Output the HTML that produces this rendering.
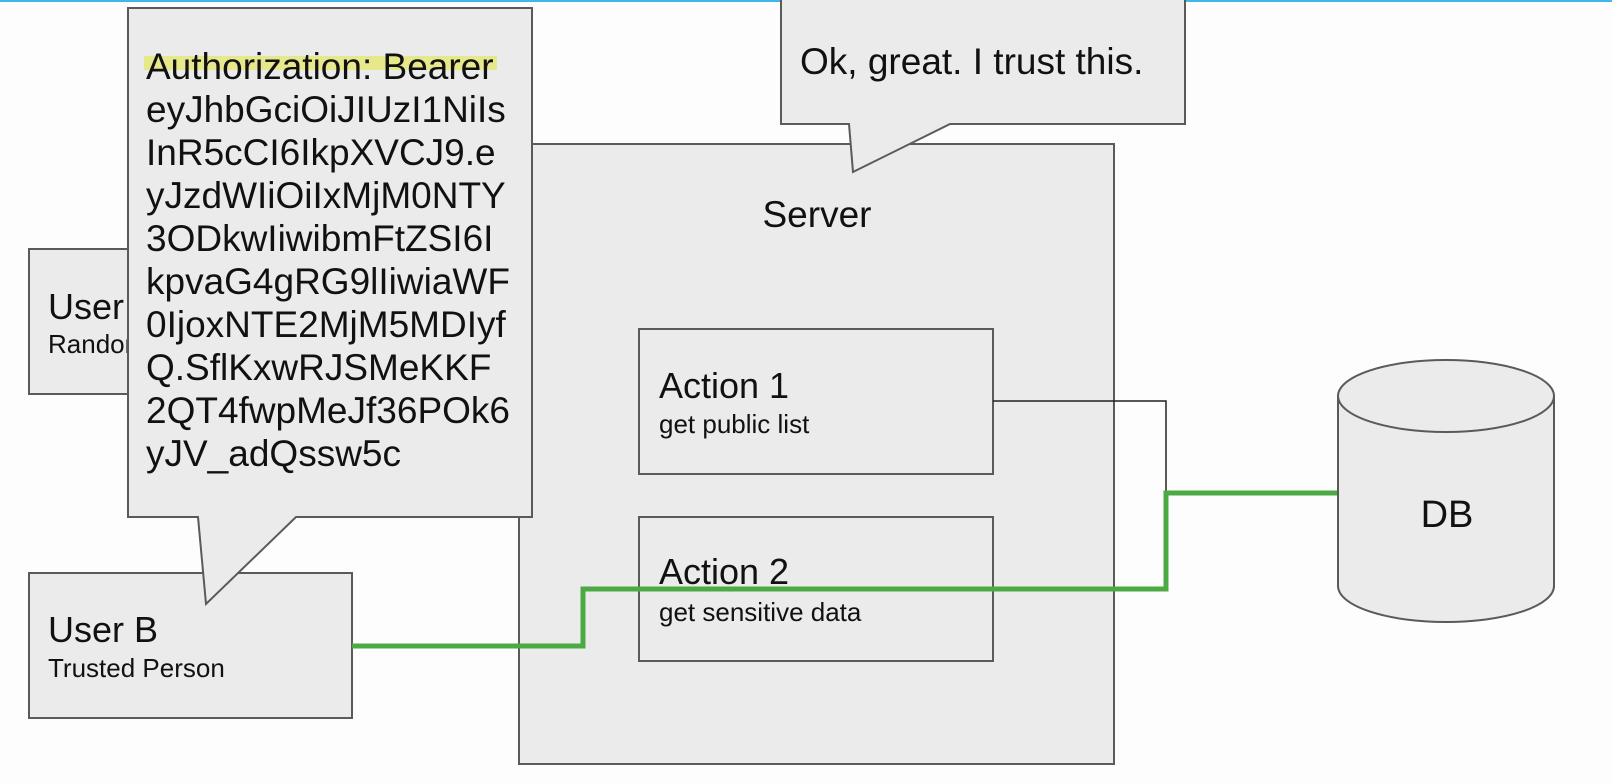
<!DOCTYPE html>
<html><head><meta charset="utf-8"><style>
html,body{margin:0;padding:0;background:#fff;width:1612px;height:784px;overflow:hidden}
svg{display:block;font-family:"Liberation Sans",Arial,sans-serif}
</style></head><body>
<svg width="1612" height="784" viewBox="0 0 1612 784" xmlns="http://www.w3.org/2000/svg">
<rect x="0" y="0" width="1612" height="784" fill="#fdfdfd"/>
<rect x="0" y="0" width="1612" height="2" fill="#3fb8e6"/>
<g fill="#ebebeb" stroke="#5a5a5a" stroke-width="2">
<rect x="519" y="144" width="595" height="620"/>
<rect x="29" y="249" width="200" height="145"/>
<rect x="29" y="573" width="323" height="145"/>
<rect x="639" y="329" width="354" height="145"/>
<rect x="639" y="517" width="354" height="144"/>
</g>
<polyline points="993,401 1166,401 1166,492" fill="none" stroke="#222" stroke-width="1.5"/>
<polyline points="352,646 583,646 583,589 1166,589 1166,493 1338,493" fill="none" stroke="#4caa44" stroke-width="5"/>
<path d="M1338,396 L1338,586 A108,36 0 0 0 1554,586 L1554,396" fill="#ebebeb" stroke="#5a5a5a" stroke-width="2"/>
<ellipse cx="1446" cy="396" rx="108" ry="36" fill="#ebebeb" stroke="#5a5a5a" stroke-width="2"/>
<text x="1447" y="527" font-size="38" text-anchor="middle" fill="#111">DB</text>
<g fill="#111">
<text x="48" y="319" font-size="36">User A</text>
<text x="48" y="353" font-size="26">Random</text>
</g>
<path d="M781,-2 L1185,-2 L1185,124 L950,124 L853,172 L849,124 L781,124 Z" fill="#ebebeb" stroke="#5a5a5a" stroke-width="2"/>
<text x="800" y="74" font-size="37" fill="#111">Ok, great. I trust this.</text>
<path d="M128,8 L532,8 L532,517 L296,517 L206,604 L198,517 L128,517 Z" fill="#ebebeb" stroke="#5a5a5a" stroke-width="2"/>
<rect x="144" y="56" width="353" height="14" fill="#e6e67a" opacity="0.85"/>
<g font-size="37" fill="#111">
<text x="146" y="79">Authorization: Bearer</text>
<text x="146" y="122">eyJhbGciOiJIUzI1NiIs</text>
<text x="146" y="165">InR5cCI6IkpXVCJ9.e</text>
<text x="146" y="208">yJzdWIiOiIxMjM0NTY</text>
<text x="146" y="251">3ODkwIiwibmFtZSI6I</text>
<text x="146" y="294">kpvaG4gRG9lIiwiaWF</text>
<text x="146" y="337">0IjoxNTE2MjM5MDIyf</text>
<text x="146" y="380">Q.SflKxwRJSMeKKF</text>
<text x="146" y="423">2QT4fwpMeJf36POk6</text>
<text x="146" y="466">yJV_adQssw5c</text>
</g>
<g fill="#111">
<text x="48" y="642" font-size="36">User B</text>
<text x="48" y="677" font-size="26">Trusted Person</text>
<text x="817" y="227" font-size="37" text-anchor="middle">Server</text>
<text x="659" y="398" font-size="36">Action 1</text>
<text x="659" y="433" font-size="26">get public list</text>
<text x="659" y="584" font-size="36">Action 2</text>
<text x="659" y="621" font-size="26">get sensitive data</text>
</g>
</svg>
</body></html>
